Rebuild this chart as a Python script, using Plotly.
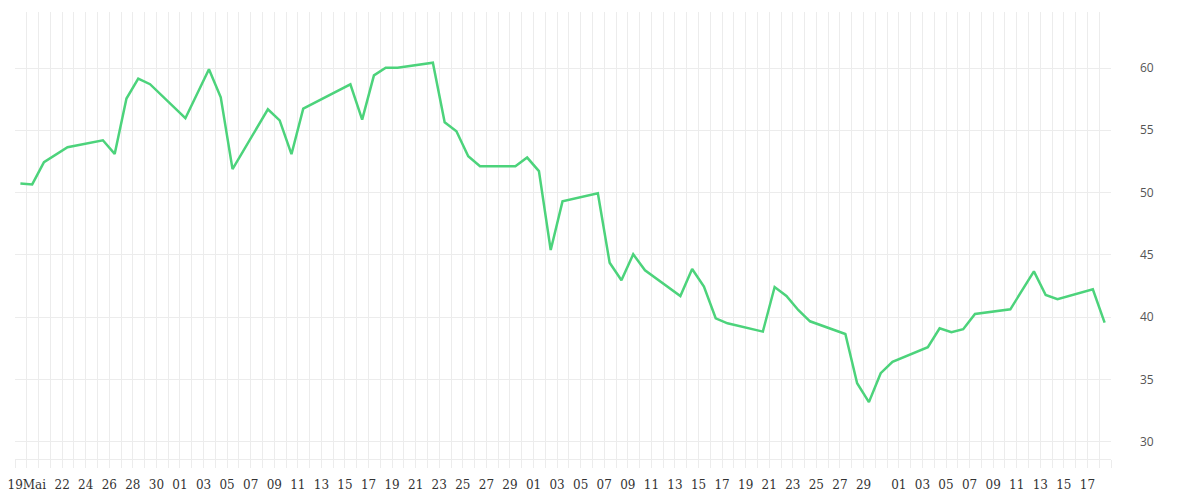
import pandas as pd
import plotly.graph_objects as go

dates = [
    "2020-05-18", "2020-05-19", "2020-05-20", "2020-05-22", "2020-05-25", "2020-05-26",
    "2020-05-27", "2020-05-28", "2020-05-29", "2020-06-01", "2020-06-03", "2020-06-04",
    "2020-06-05", "2020-06-08", "2020-06-09", "2020-06-10", "2020-06-11", "2020-06-15",
    "2020-06-16", "2020-06-17", "2020-06-18", "2020-06-19", "2020-06-22", "2020-06-23",
    "2020-06-24", "2020-06-25", "2020-06-26", "2020-06-29", "2020-06-30", "2020-07-01",
    "2020-07-02", "2020-07-03", "2020-07-06", "2020-07-07", "2020-07-08", "2020-07-09",
    "2020-07-10", "2020-07-13", "2020-07-14", "2020-07-15", "2020-07-16", "2020-07-17",
    "2020-07-20", "2020-07-21", "2020-07-22", "2020-07-23", "2020-07-24", "2020-07-27",
    "2020-07-28", "2020-07-29", "2020-07-30", "2020-07-31", "2020-08-03", "2020-08-04",
    "2020-08-05", "2020-08-06", "2020-08-07", "2020-08-10", "2020-08-12", "2020-08-13",
    "2020-08-14", "2020-08-17", "2020-08-18",
]
values = [
    50.73, 50.65, 52.44, 53.64, 54.20, 53.10,
    57.55, 59.15, 58.70, 55.97, 59.90, 57.65,
    51.88, 56.69, 55.80, 53.08, 56.74, 58.69,
    55.86, 59.41, 60.03, 60.03, 60.43, 55.65,
    54.92, 52.92, 52.12, 52.12, 52.81, 51.72,
    45.38, 49.29, 49.95, 44.36, 42.95, 45.04,
    43.75, 41.69, 43.86, 42.44, 39.90, 39.50,
    38.83, 42.41, 41.69, 40.57, 39.66, 38.64,
    34.69, 33.17, 35.49, 36.40, 37.58, 39.10,
    38.78, 39.02, 40.25, 40.62, 43.67, 41.77,
    41.43, 42.23, 39.55,
]

tick_dates = [
    "2020-05-19", "2020-05-22", "2020-05-24", "2020-05-26", "2020-05-28", "2020-05-30",
    "2020-06-01", "2020-06-03", "2020-06-05", "2020-06-07", "2020-06-09", "2020-06-11",
    "2020-06-13", "2020-06-15", "2020-06-17", "2020-06-19", "2020-06-21", "2020-06-23",
    "2020-06-25", "2020-06-27", "2020-06-29", "2020-07-01", "2020-07-03", "2020-07-05",
    "2020-07-07", "2020-07-09", "2020-07-11", "2020-07-13", "2020-07-15", "2020-07-17",
    "2020-07-19", "2020-07-21", "2020-07-23", "2020-07-25", "2020-07-27", "2020-07-29",
    "2020-08-01", "2020-08-03", "2020-08-05", "2020-08-07", "2020-08-09", "2020-08-11",
    "2020-08-13", "2020-08-15", "2020-08-17",
]
tick_labels = [
    "19Mai", "22", "24", "26", "28", "30",
    "01", "03", "05", "07", "09", "11",
    "13", "15", "17", "19", "21", "23",
    "25", "27", "29", "01", "03", "05",
    "07", "09", "11", "13", "15", "17",
    "19", "21", "23", "25", "27", "29",
    "01", "03", "05", "07", "09", "11",
    "13", "15", "17",
]

y_ticks = [30, 35, 40, 45, 50, 55, 60]

GRID = "#ececec"
x = pd.to_datetime(dates) + pd.Timedelta(hours=11)

fig = go.Figure()
fig.add_trace(go.Scatter(
    x=x, y=values, mode="lines",
    line=dict(color="#4cd37b", width=2.5),
    hoverinfo="skip", showlegend=False,
))

fig.update_layout(
    width=1192, height=492,
    margin=dict(l=7, r=89, t=4, b=41, autoexpand=False),
    paper_bgcolor="white", plot_bgcolor="white",
    xaxis=dict(
        type="date",
        automargin=False,
        range=["2020-05-18", "2020-08-19"],
        tickmode="array",
        tickvals=pd.to_datetime(tick_dates),
        ticktext=tick_labels,
        showgrid=True, gridcolor=GRID, gridwidth=1,
        ticks="outside", ticklen=8, tickcolor=GRID, tickwidth=1,
        showline=True, linecolor=GRID, linewidth=1,
        zeroline=False,
        tickfont=dict(family="DejaVu Serif", size=12, color="#333333"),
        ticklabelstandoff=7,
        ticklabeloverflow="allow",
        minor=dict(
            tickmode="linear", tick0="2020-05-18", dtick=86400000,
            showgrid=True, gridcolor=GRID, gridwidth=1,
            ticks="outside", ticklen=8, tickcolor=GRID, tickwidth=1,
        ),
    ),
    yaxis=dict(
        side="right",
        automargin=False,
        range=[28.6, 64.5],
        tickmode="array", tickvals=y_ticks,
        showgrid=True, gridcolor=GRID, gridwidth=1,
        zeroline=False, showline=False, ticks="",
        tickfont=dict(family="Open Sans", size=12, color="#555555"),
        ticklabelstandoff=28,
        ticklabeloverflow="allow",
    ),
)

fig.write_html("out.html")
